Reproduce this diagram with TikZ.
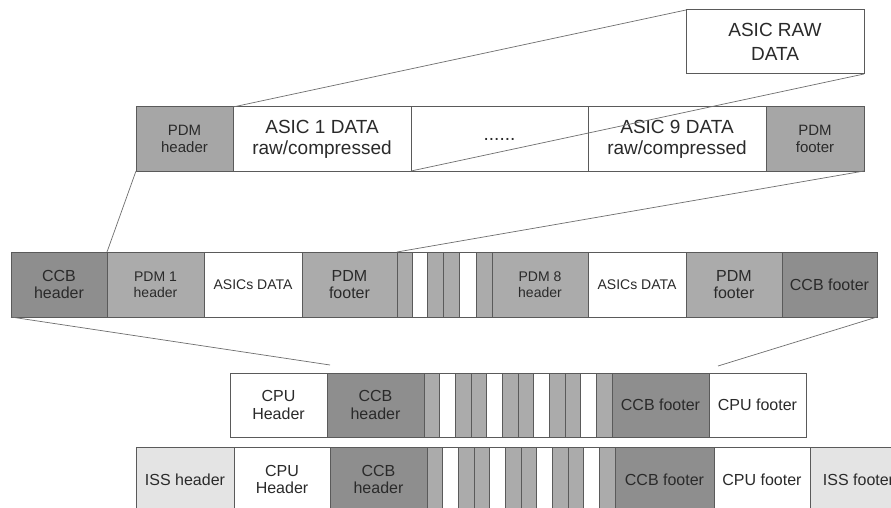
\documentclass[tikz,border=0pt]{standalone}
\usepackage{fontspec}
\setmainfont{Liberation Sans}

\definecolor{ccbgray}{HTML}{8E8E8E}
\definecolor{pdmgray}{HTML}{ABABAB}
\definecolor{pdmtop}{HTML}{A6A6A6}
\definecolor{issgray}{HTML}{E4E4E4}
\definecolor{edge}{HTML}{5A5A5A}
\definecolor{ink}{HTML}{2A2A2A}
\definecolor{zoomline}{HTML}{6E6E6E}

\tikzset{
  cell/.style={draw=edge, line width=1pt, anchor=north west, inner sep=0pt,
    outer sep=0pt, align=center, text=ink,
    font=\fontsize{16}{17.5}\selectfont},
  big/.style={font=\fontsize{19}{21}\selectfont},
  small/.style={font=\fontsize{14}{16}\selectfont},
  mid/.style={font=\fontsize{15}{17}\selectfont},
  ccb/.style={fill=ccbgray},
  pdm/.style={fill=pdmgray},
  iss/.style={fill=issgray},
  blank/.style={fill=white},
  zoomlink/.style={draw=zoomline, line width=0.7pt},
}

\begin{document}
\begin{tikzpicture}[x=1pt, y=-1pt]
  \useasboundingbox (0,0) rectangle (891,508);
  \fill[white] (0,0) rectangle (891,508);
  \clip (0,0) rectangle (891,508);

  % raw data of a single ASIC
  \node[cell, blank, big, minimum width=178pt, minimum height=64pt,
        font=\fontsize{19}{23.5}\selectfont] (raw) at (686,10) {ASIC RAW\\DATA};

  % PDM packet
  \node[cell, fill=pdmtop, mid, minimum width=97pt, minimum height=64pt] (pdmh) at (136,107) {PDM\\header};
  \node[cell, blank, big, minimum width=178pt, minimum height=64pt] (asic1) at (233,107) {ASIC 1 DATA\\raw/compressed};
  \node[cell, blank, big, minimum width=177pt, minimum height=64pt] (dots) at (411,107) {\raisebox{-4pt}{......}};
  \node[cell, blank, big, minimum width=178pt, minimum height=64pt] (asic9) at (588,107) {ASIC 9 DATA\\raw/compressed};
  \node[cell, fill=pdmtop, mid, minimum width=98pt, minimum height=64pt] (pdmf) at (766,107) {PDM\\footer};

  % CCB packet
  \node[cell, ccb, minimum width=96pt, minimum height=65pt] (ccbh) at (11,252) {CCB\\header};
  \node[cell, pdm, small, minimum width=97pt, minimum height=65pt] (pdm1h) at (107,252) {PDM 1\\header};
  \node[cell, blank, small, minimum width=98pt, minimum height=65pt] (asics1) at (204,252) {ASICs DATA};
  \node[cell, pdm, minimum width=95pt, minimum height=65pt] (pdm1f) at (302,252) {PDM\\footer};
  \node[cell, pdm, minimum width=15pt, minimum height=65pt] (cs1) at (397,252) {};
  \node[cell, blank, minimum width=15pt, minimum height=65pt] (cs2) at (412,252) {};
  \node[cell, pdm, minimum width=16pt, minimum height=65pt] (cs3) at (427,252) {};
  \node[cell, pdm, minimum width=16pt, minimum height=65pt] (cs4) at (443,252) {};
  \node[cell, blank, minimum width=17pt, minimum height=65pt] (cs5) at (459,252) {};
  \node[cell, pdm, minimum width=16pt, minimum height=65pt] (cs6) at (476,252) {};
  \node[cell, pdm, small, minimum width=96pt, minimum height=65pt] (pdm8h) at (492,252) {PDM 8\\header};
  \node[cell, blank, small, minimum width=98pt, minimum height=65pt] (asics8) at (588,252) {ASICs DATA};
  \node[cell, pdm, minimum width=96pt, minimum height=65pt] (pdm8f) at (686,252) {PDM\\footer};
  \node[cell, ccb, minimum width=95pt, minimum height=65pt] (ccbf) at (782,252) {CCB footer};

  % CPU packet
  \node[cell, blank, minimum width=97pt, minimum height=64pt] (cpuh) at (230,373) {CPU\\Header};
  \node[cell, ccb, minimum width=97pt, minimum height=64pt] (ccbh3) at (327,373) {CCB\\header};
  \foreach \i [evaluate=\i as \xx using 424+(\i-1)*188/12] in {1,...,12} {
    \pgfmathtruncatemacro{\k}{mod(\i,3)}
    \ifnum\k=2
      \node[cell, blank, minimum width=15.667pt, minimum height=64pt] (ds\i) at (\xx,373) {};
    \else
      \node[cell, pdm, minimum width=15.667pt, minimum height=64pt] (ds\i) at (\xx,373) {};
    \fi
  }
  \node[cell, ccb, minimum width=97pt, minimum height=64pt] (ccbf3) at (612,373) {CCB footer};
  \node[cell, blank, minimum width=97pt, minimum height=64pt] (cpuf) at (709,373) {CPU footer};

  % ISS packet
  \node[cell, iss, minimum width=98pt, minimum height=65pt] (issh) at (136,447) {ISS header};
  \node[cell, blank, minimum width=96pt, minimum height=65pt] (cpuh4) at (234,447) {CPU\\Header};
  \node[cell, ccb, minimum width=97pt, minimum height=65pt] (ccbh4) at (330,447) {CCB\\header};
  \foreach \i [evaluate=\i as \xx using 427+(\i-1)*188/12] in {1,...,12} {
    \pgfmathtruncatemacro{\k}{mod(\i,3)}
    \ifnum\k=2
      \node[cell, blank, minimum width=15.667pt, minimum height=65pt] (es\i) at (\xx,447) {};
    \else
      \node[cell, pdm, minimum width=15.667pt, minimum height=65pt] (es\i) at (\xx,447) {};
    \fi
  }
  \node[cell, ccb, minimum width=99pt, minimum height=65pt] (ccbf4) at (615,447) {CCB footer};
  \node[cell, blank, minimum width=96pt, minimum height=65pt] (cpuf4) at (714,447) {CPU footer};
  \node[cell, iss, minimum width=97pt, minimum height=65pt] (issf) at (810,447) {ISS footer};

  % zoom lines between the levels
  \coordinate (cpuzl) at ([xshift=3pt, yshift=8pt]cpuh.north east);
  \coordinate (cpuzr) at ([xshift=9pt, yshift=7pt]ccbf3.north east);
  \draw[zoomlink] (pdmh.north east) -- (raw.north west);
  \draw[zoomlink] (asic1.south east) -- (raw.south east);
  \draw[zoomlink] (pdmh.south west) -- (ccbh.north east);
  \draw[zoomlink] (pdmf.south east) -- (cs1.north west);
  \draw[zoomlink] (ccbh.south west) -- (cpuzl);
  \draw[zoomlink] (ccbf.south east) -- (cpuzr);
\end{tikzpicture}
\end{document}
